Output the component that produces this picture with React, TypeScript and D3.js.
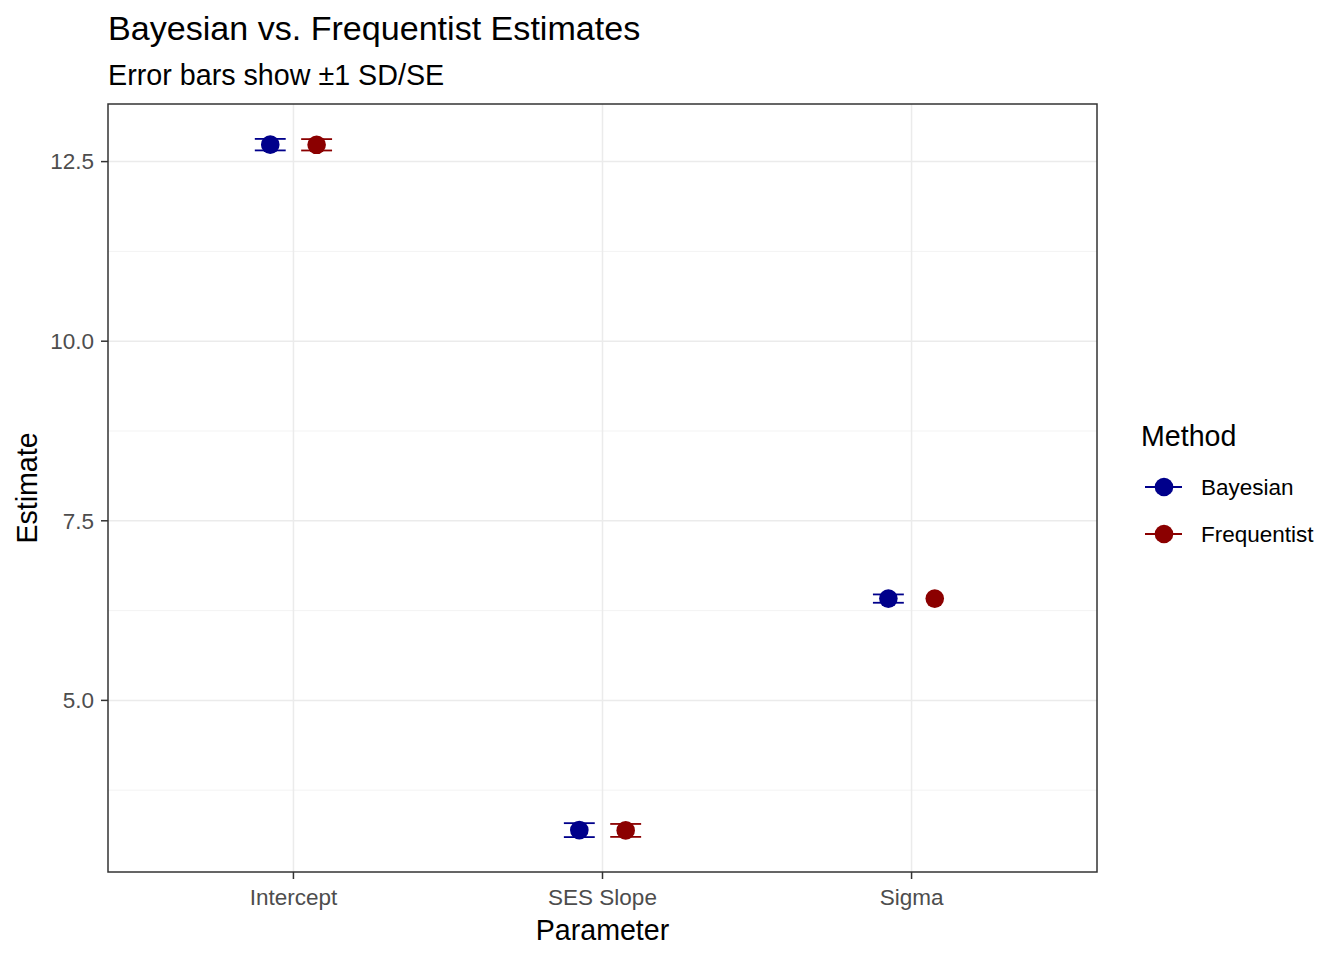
import React from "react";
import * as d3 from "d3";

const parameters = ["Intercept", "SES Slope", "Sigma"];
const methods = ["Bayesian", "Frequentist"];
const methodColors = ["#00008B", "#8B0000"];
const bayesEstimate = [12.736, 3.194, 6.417];
const bayesError = [0.08, 0.097, 0.058];
const freqEstimate = [12.734, 3.19, 6.417];
const freqError = [0.079, 0.09, 0];
const yTicks = [5.0, 7.5, 10.0, 12.5];
const yMinorTicks = [3.75, 6.25, 8.75, 11.25];

const W = 1344, H = 960;
const panel = { left: 108, right: 1097, top: 104, bottom: 872 };
const font = "Liberation Sans, Arial, sans-serif";

export default function App() {
  const allLo = [...bayesEstimate.map((v, i) => v - bayesError[i]), ...freqEstimate.map((v, i) => v - freqError[i])];
  const allHi = [...bayesEstimate.map((v, i) => v + bayesError[i]), ...freqEstimate.map((v, i) => v + freqError[i])];
  const lo = d3.min(allLo)!, hi = d3.max(allHi)!;
  const pad = (hi - lo) * 0.05;
  const y = d3.scaleLinear().domain([lo - pad, hi + pad]).range([panel.bottom, panel.top]);
  const x = d3.scaleLinear().domain([0.4, 3.6]).range([panel.left, panel.right]);
  const dodge = 0.075;
  const whisk = 0.05;

  const series = [
    { est: bayesEstimate, err: bayesError, off: -dodge, color: methodColors[0] },
    { est: freqEstimate, err: freqError, off: dodge, color: methodColors[1] },
  ];

  return (
    <svg width={W} height={H} style={{ position: "absolute", left: 0, top: 0 }} fontFamily={font}>
      <rect width={W} height={H} fill="white" />
      {yMinorTicks.map((t) => (
        <line key={"m" + t} x1={panel.left} x2={panel.right} y1={y(t)} y2={y(t)} stroke="#f3f3f3" strokeWidth={1} />
      ))}
      {yTicks.map((t) => (
        <line key={"g" + t} x1={panel.left} x2={panel.right} y1={y(t)} y2={y(t)} stroke="#ebebeb" strokeWidth={1.5} />
      ))}
      {parameters.map((p, i) => (
        <line key={"v" + p} x1={x(i + 1)} x2={x(i + 1)} y1={panel.top} y2={panel.bottom} stroke="#ebebeb" strokeWidth={1.5} />
      ))}
      {series.map((s, si) =>
        parameters.map((p, i) => {
          const cx = x(i + 1 + s.off);
          const w = x(whisk) - x(0);
          const yl = y(s.est[i] - s.err[i]);
          const yh = y(s.est[i] + s.err[i]);
          return (
            <g key={si + p}>
              {s.err[i] > 0 && (
                <g stroke={s.color} strokeWidth={1.8}>
                  <line x1={cx - w} x2={cx + w} y1={yh} y2={yh} />
                  <line x1={cx - w} x2={cx + w} y1={yl} y2={yl} />
                  <line x1={cx} x2={cx} y1={yh} y2={yl} />
                </g>
              )}
              <circle cx={cx} cy={y(s.est[i])} r={9.3} fill={s.color} />
            </g>
          );
        })
      )}
      <rect x={panel.left} y={panel.top} width={panel.right - panel.left} height={panel.bottom - panel.top} fill="none" stroke="#333333" strokeWidth={1.5} />
      {yTicks.map((t) => (
        <g key={"t" + t}>
          <line x1={panel.left - 7} x2={panel.left} y1={y(t)} y2={y(t)} stroke="#333333" strokeWidth={1.5} />
          <text x={panel.left - 14} y={y(t)} dy="0.35em" textAnchor="end" fontSize={22.5} fill="#4d4d4d">{t.toFixed(1)}</text>
        </g>
      ))}
      {parameters.map((p, i) => (
        <g key={"x" + p}>
          <line x1={x(i + 1)} x2={x(i + 1)} y1={panel.bottom} y2={panel.bottom + 7} stroke="#333333" strokeWidth={1.5} />
          <text x={x(i + 1)} y={905} textAnchor="middle" fontSize={22.5} fill="#4d4d4d">{p}</text>
        </g>
      ))}
      <text x={(panel.left + panel.right) / 2} y={940} textAnchor="middle" fontSize={28.6} fill="black">Parameter</text>
      <text transform={`translate(37,${(panel.top + panel.bottom) / 2}) rotate(-90)`} textAnchor="middle" fontSize={28.6} fill="black">Estimate</text>
      <text x={108} y={40} fontSize={34.1} fill="black">Bayesian vs. Frequentist Estimates</text>
      <text x={108} y={85} fontSize={28.7} fill="black">Error bars show ±1 SD/SE</text>
      <text x={1141} y={446} fontSize={28.6} fill="black">Method</text>
      {methods.map((m, i) => {
        const ky = 487 + i * 47;
        return (
          <g key={m}>
            <line x1={1145} x2={1182} y1={ky} y2={ky} stroke={methodColors[i]} strokeWidth={1.8} />
            <circle cx={1164} cy={ky} r={9.3} fill={methodColors[i]} />
            <text x={1201} y={ky} dy="0.35em" fontSize={22.5} fill="black">{m}</text>
          </g>
        );
      })}
    </svg>
  );
}
